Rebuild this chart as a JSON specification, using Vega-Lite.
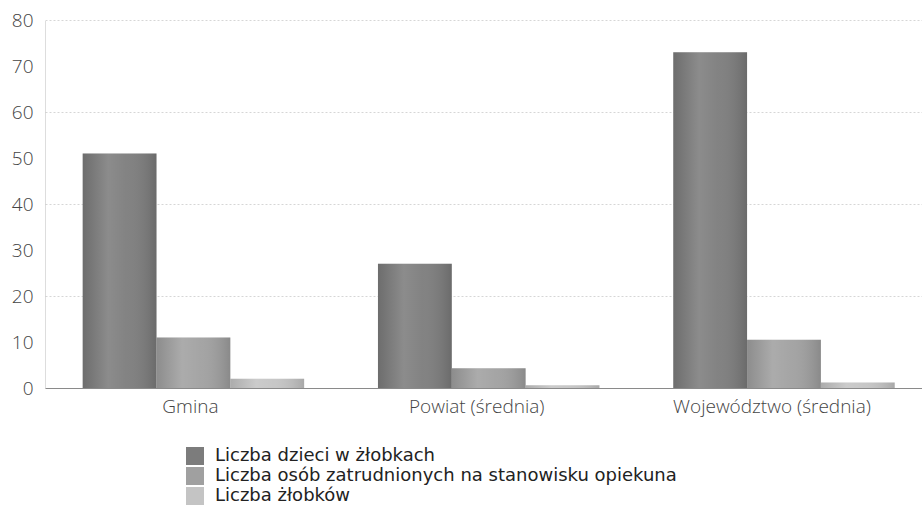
{
  "$schema": "https://vega.github.io/schema/vega-lite/v6.json",
  "autosize": "none",
  "width": 877,
  "height": 368,
  "padding": {"left": 45, "top": 20, "right": 0, "bottom": 125},
  "background": "white",
  "config": {
    "font": "DejaVu Sans",
    "view": {"stroke": null}
  },
  "data": {
    "values": [
      {"region": "Gmina", "series": "Liczba dzieci w żłobkach", "value": 51},
      {"region": "Gmina", "series": "Liczba osób zatrudnionych na stanowisku opiekuna", "value": 11},
      {"region": "Gmina", "series": "Liczba żłobków", "value": 2},
      {"region": "Powiat (średnia)", "series": "Liczba dzieci w żłobkach", "value": 27},
      {"region": "Powiat (średnia)", "series": "Liczba osób zatrudnionych na stanowisku opiekuna", "value": 4.3},
      {"region": "Powiat (średnia)", "series": "Liczba żłobków", "value": 0.6},
      {"region": "Województwo (średnia)", "series": "Liczba dzieci w żłobkach", "value": 73},
      {"region": "Województwo (średnia)", "series": "Liczba osób zatrudnionych na stanowisku opiekuna", "value": 10.5},
      {"region": "Województwo (średnia)", "series": "Liczba żłobków", "value": 1.2}
    ]
  },
  "encoding": {
    "x": {
      "field": "region",
      "type": "nominal",
      "sort": null,
      "scale": {"paddingInner": 0.25, "paddingOuter": 0.11, "align": 0.58},
      "axis": {
        "title": null,
        "labelAngle": 0,
        "labelFont": "Open Sans",
        "labelFontWeight": 300,
        "labelFontSize": 19,
        "labelColor": "#444444",
        "labelPadding": 9,
        "labelLimit": 400,
        "labelOffset": {"condition": {"test": "datum.value === 'Gmina'", "value": -3}, "value": -12},
        "ticks": false,
        "domain": true,
        "domainColor": "#8a8a8a",
        "domainWidth": 1.2
      }
    },
    "xOffset": {
      "field": "series",
      "type": "nominal",
      "sort": null
    },
    "y": {
      "field": "value",
      "type": "quantitative",
      "scale": {"domain": [0, 80], "nice": false},
      "axis": {
        "title": null,
        "values": [0, 10, 20, 30, 40, 50, 60, 70, 80],
        "labelFont": "Open Sans",
        "labelFontWeight": 300,
        "labelFontSize": 19,
        "labelColor": "#444444",
        "labelPadding": 12,
        "ticks": false,
        "domain": true,
        "domainColor": "#bbbbbb",
        "domainDash": [1, 1],
        "grid": true,
        "gridColor": "#d6d6d6",
        "gridDash": [2, 2],
        "gridOpacity": {"condition": {"test": "datum.value % 20 === 0 && datum.value > 0", "value": 1}, "value": 0}
      }
    }
  },
  "layer": [
    {
      "mark": {"type": "bar"},
      "encoding": {
        "color": {
          "field": "series",
          "type": "nominal",
          "sort": null,
          "scale": {"range": ["#7c7c7c", "#a0a0a0", "#c4c4c4"]},
          "legend": {
            "title": null,
            "orient": "none",
            "legendX": 141,
            "legendY": 427,
            "symbolType": "square",
            "symbolSize": 324,
            "symbolStrokeWidth": 0,
            "symbolOpacity": 1,
            "labelFont": "DejaVu Sans",
            "labelFontSize": 18,
            "labelColor": "#222222",
            "labelOffset": 11,
            "rowPadding": 2,
            "labelLimit": 700
          }
        }
      }
    },
    {
      "mark": {
        "type": "bar",
        "color": {
          "x1": 0, "y1": 0, "x2": 1, "y2": 0,
          "gradient": "linear",
          "stops": [
            {"offset": 0, "color": "rgba(0,0,0,0.12)"},
            {"offset": 0.35, "color": "rgba(255,255,255,0.12)"},
            {"offset": 0.6, "color": "rgba(255,255,255,0.05)"},
            {"offset": 1, "color": "rgba(0,0,0,0.14)"}
          ]
        }
      },
      "encoding": {}
    }
  ]
}
